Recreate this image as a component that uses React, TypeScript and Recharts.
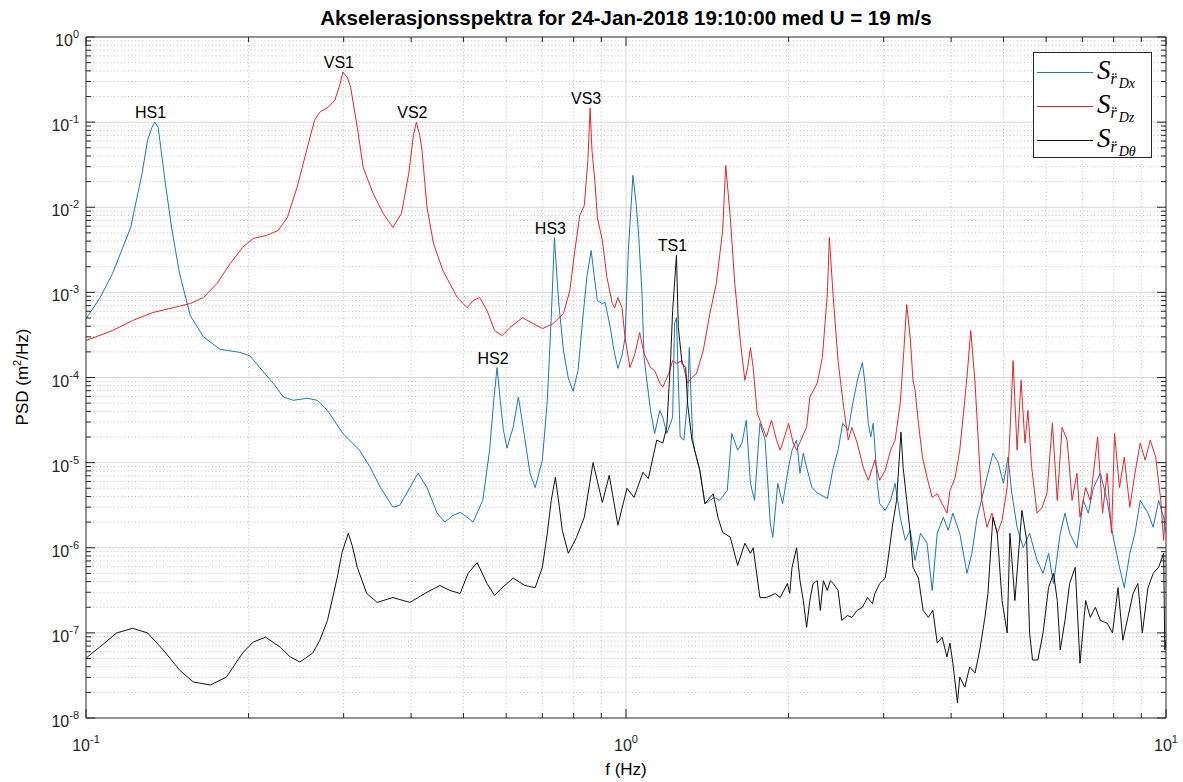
import React from "react";
import { LineChart, Line, XAxis, YAxis, ReferenceLine, ReferenceDot } from "recharts";

// [frequency (Hz), PSD (m^2/Hz)]
const spectrumDx: [number, number][] = [
  [0.1, 4.9e-4], [0.106, 8.5e-4], [0.112, 1.67e-3], [0.121, 5.8e-3], [0.127, 2.5e-2], [0.13, 6.1e-2],
  [0.1325, 8.7e-2], [0.134, 1.0e-1], [0.136, 8.7e-2], [0.137, 6.1e-2], [0.14, 2.1e-2], [0.144, 5.8e-3],
  [0.149, 1.67e-3], [0.156, 5.35e-4], [0.165, 3.0e-4], [0.177, 2.15e-4], [0.193, 1.97e-4], [0.201, 1.8e-4],
  [0.21, 1.3e-4], [0.222, 8.6e-5], [0.232, 5.9e-5], [0.242, 5.4e-5], [0.257, 5.7e-5], [0.268, 5.4e-5],
  [0.28, 4.1e-5], [0.299, 2.2e-5], [0.321, 1.4e-5], [0.336, 8.8e-6], [0.351, 5.1e-6], [0.37, 3.0e-6],
  [0.381, 3.15e-6], [0.398, 5.1e-6], [0.412, 7.5e-6], [0.428, 5.1e-6], [0.447, 2.55e-6], [0.462, 2.0e-6],
  [0.478, 2.4e-6], [0.493, 2.6e-6], [0.508, 2.28e-6], [0.521, 2.0e-6], [0.543, 3.6e-6], [0.559, 1.4e-5],
  [0.569, 5.4e-5], [0.577, 1.31e-4], [0.585, 5.4e-5], [0.593, 2.4e-5], [0.602, 1.48e-5], [0.618, 2.6e-5],
  [0.632, 5.9e-5], [0.645, 2.6e-5], [0.664, 7.5e-6], [0.679, 5.1e-6], [0.7, 1.07e-5], [0.715, 5.4e-5],
  [0.727, 5.05e-4], [0.737, 4.4e-3], [0.75, 8.0e-4], [0.766, 2.07e-4], [0.782, 9.8e-5], [0.798, 6.9e-5],
  [0.815, 1.21e-4], [0.832, 5.05e-4], [0.847, 1.58e-3], [0.862, 3.1e-3], [0.873, 1.58e-3], [0.885, 8.0e-4],
  [0.904, 7.4e-4], [0.915, 7.6e-4], [0.935, 3.9e-4], [0.95, 2.07e-4], [0.966, 1.28e-4], [0.983, 1.81e-4],
  [0.996, 2.95e-4], [1.01, 3.1e-3], [1.03, 2.37e-2], [1.045, 1.05e-2], [1.055, 4.9e-3], [1.07, 1.05e-3],
  [1.08, 1.72e-4], [1.11, 4.1e-5], [1.13, 2.2e-5], [1.155, 4.1e-5], [1.17, 3.4e-5], [1.19, 2.2e-5],
  [1.22, 3.4e-5], [1.23, 4.3e-4], [1.24, 5.05e-4], [1.25, 9.3e-5], [1.26, 2.0e-5], [1.28, 1.84e-5],
  [1.3, 5.4e-5], [1.31, 2.25e-4], [1.32, 5.4e-5], [1.33, 1.84e-5], [1.34, 1.4e-5], [1.37, 8.1e-6],
  [1.4, 3.3e-6], [1.43, 3.6e-6], [1.46, 3.9e-6], [1.49, 3.6e-6], [1.54, 4.7e-6], [1.57, 2.2e-5],
  [1.61, 1.4e-5], [1.64, 1.7e-5], [1.67, 3.15e-5], [1.7, 5.7e-6], [1.73, 3.6e-6], [1.77, 2.9e-5],
  [1.81, 1.84e-5], [1.85, 1.94e-6], [1.87, 1.33e-6], [1.91, 5.7e-6], [1.95, 3.3e-6], [2.0, 8.8e-6],
  [2.03, 1.4e-5], [2.07, 1.84e-5], [2.1, 7.5e-6], [2.13, 1.29e-5], [2.16, 8.8e-6], [2.21, 5.1e-6],
  [2.26, 4.4e-6], [2.36, 3.8e-6], [2.42, 8.8e-6], [2.47, 1.4e-5], [2.52, 2.9e-5], [2.58, 2.4e-5],
  [2.63, 5.0e-5], [2.69, 1.0e-4], [2.74, 1.5e-4], [2.77, 8.6e-5], [2.81, 2.9e-5], [2.84, 2.0e-5],
  [2.87, 2.9e-5], [2.92, 5.7e-6], [2.95, 3.3e-6], [3.02, 2.75e-6], [3.09, 3.6e-6], [3.15, 5.7e-6],
  [3.22, 2.28e-6], [3.29, 1.22e-6], [3.36, 1.6e-6], [3.43, 7.1e-7], [3.51, 1.48e-6], [3.61, 1.13e-6],
  [3.69, 3.15e-7], [3.77, 1.48e-6], [3.87, 2.28e-6], [3.95, 1.6e-6], [4.03, 2.55e-6], [4.15, 1.48e-6],
  [4.28, 5.0e-7], [4.37, 8.6e-7], [4.47, 2.28e-6], [4.52, 3.0e-6], [4.66, 6.7e-6], [4.78, 1.29e-5],
  [4.89, 1.0e-5], [5.0, 5.7e-6], [5.1, 1.16e-5], [5.18, 4.4e-6], [5.3, 1.74e-6], [5.44, 1.0e-6],
  [5.59, 1.48e-6], [5.77, 7.1e-7], [5.92, 5.0e-7], [6.06, 8.6e-7], [6.19, 3.8e-7], [6.37, 1.48e-6],
  [6.5, 2.55e-6], [6.63, 1.48e-6], [6.84, 1.0e-6], [7.03, 3.6e-6], [7.18, 2.55e-6], [7.34, 5.1e-6],
  [7.56, 7.5e-6], [7.78, 3.6e-6], [7.96, 1.48e-6], [8.2, 5.9e-7], [8.37, 3.4e-7], [8.57, 8.6e-7],
  [8.76, 1.48e-6], [8.96, 3.6e-6], [9.26, 2.55e-6], [9.47, 1.74e-6], [9.69, 3.6e-6], [9.9, 2.28e-6],
  [10, 1.48e-6],
];

const spectrumDz: [number, number][] = [
  [0.1, 2.72e-4], [0.112, 3.56e-4], [0.122, 4.67e-4], [0.133, 5.8e-4], [0.145, 6.6e-4], [0.156, 7.4e-4],
  [0.165, 8.7e-4], [0.175, 1.28e-3], [0.185, 2.19e-3], [0.195, 3.38e-3], [0.204, 4.3e-3], [0.216, 4.67e-3],
  [0.227, 5.35e-3], [0.236, 7.6e-3], [0.246, 1.72e-2], [0.257, 5.05e-2], [0.265, 1.05e-1], [0.271, 1.31e-1],
  [0.281, 1.5e-1], [0.289, 1.81e-1], [0.295, 2.72e-1], [0.299, 3.87e-1], [0.305, 3.3e-1], [0.309, 2.58e-1],
  [0.318, 8.7e-2], [0.326, 2.95e-2], [0.34, 1.46e-2], [0.355, 8.5e-3], [0.37, 5.8e-3], [0.384, 8.5e-3],
  [0.396, 2.5e-2], [0.404, 7.0e-2], [0.409, 1.0e-1], [0.415, 7.0e-2], [0.419, 4.67e-2], [0.428, 1.0e-2],
  [0.44, 3.76e-3], [0.458, 1.81e-3], [0.487, 8.7e-4], [0.508, 6.6e-4], [0.521, 8.0e-4], [0.536, 8.7e-4],
  [0.553, 6.1e-4], [0.571, 3.56e-4], [0.59, 3.1e-4], [0.61, 3.87e-4], [0.643, 5.05e-4], [0.673, 4.3e-4],
  [0.701, 3.76e-4], [0.733, 4.3e-4], [0.766, 5.65e-4], [0.787, 1.05e-3], [0.804, 3.1e-3], [0.821, 8.0e-3],
  [0.837, 1.05e-2], [0.85, 3.56e-2], [0.858, 1.46e-1], [0.865, 4.67e-2], [0.877, 1.81e-2], [0.885, 7.6e-3],
  [0.904, 4.08e-3], [0.922, 1.5e-3], [0.943, 7.4e-4], [0.953, 6.6e-4], [0.966, 8.7e-4], [0.983, 6.6e-4],
  [0.996, 2.95e-4], [1.017, 1.31e-4], [1.039, 1.91e-4], [1.06, 3.38e-4], [1.08, 1.91e-4], [1.11, 1.31e-4],
  [1.13, 1.21e-4], [1.155, 8.6e-5], [1.17, 7.7e-5], [1.2, 1.11e-4], [1.22, 1.58e-4], [1.24, 1.46e-4],
  [1.27, 1.58e-4], [1.3, 8.6e-5], [1.325, 1.0e-4], [1.35, 1.11e-4], [1.39, 2.07e-4], [1.43, 5.65e-4],
  [1.47, 1.28e-3], [1.51, 5.35e-3], [1.53, 3.1e-2], [1.56, 7.6e-3], [1.59, 1.28e-3], [1.63, 2.5e-4],
  [1.66, 9.3e-5], [1.68, 1.31e-4], [1.7, 2.25e-4], [1.72, 1.31e-4], [1.75, 3.8e-5], [1.79, 2.6e-5],
  [1.82, 2.0e-5], [1.86, 3.15e-5], [1.9, 1.84e-5], [1.93, 1.4e-5], [1.95, 1.7e-5], [2.0, 2.9e-5],
  [2.04, 1.7e-5], [2.07, 1.4e-5], [2.12, 2.0e-5], [2.16, 2.6e-5], [2.19, 5.9e-5], [2.26, 8.6e-5],
  [2.31, 1.72e-4], [2.36, 9.7e-4], [2.38, 4.4e-3], [2.42, 8.7e-4], [2.47, 1.58e-4], [2.52, 5.4e-5],
  [2.58, 1.84e-5], [2.62, 2.6e-5], [2.68, 1.7e-5], [2.75, 8.8e-6], [2.81, 6.2e-6], [2.89, 1.07e-5],
  [2.95, 6.2e-6], [3.02, 8.1e-6], [3.09, 1.4e-5], [3.15, 1.84e-5], [3.22, 5.0e-5], [3.27, 2.07e-4],
  [3.31, 7.2e-4], [3.36, 2.95e-4], [3.4, 9.3e-5], [3.43, 7.1e-5], [3.48, 2.9e-5], [3.54, 1.16e-5],
  [3.61, 6.7e-6], [3.69, 3.9e-6], [3.77, 4.3e-6], [3.85, 3.3e-6], [3.93, 2.55e-6], [3.98, 4.7e-6],
  [4.07, 6.7e-6], [4.15, 1.4e-5], [4.24, 5.4e-5], [4.29, 1.21e-4], [4.35, 3.56e-4], [4.43, 8.6e-5],
  [4.52, 8.8e-6], [4.56, 3.6e-6], [4.66, 1.74e-6], [4.76, 2.55e-6], [4.87, 1.48e-6], [4.97, 2.1e-6],
  [5.08, 5.1e-6], [5.14, 2.2e-5], [5.21, 1.58e-4], [5.3, 1.4e-5], [5.39, 9.3e-5], [5.48, 1.7e-5],
  [5.55, 4.1e-5], [5.64, 8.8e-6], [5.77, 2.55e-6], [5.9, 3.0e-6], [6.02, 4.4e-6], [6.16, 2.9e-5],
  [6.29, 3.6e-6], [6.42, 2.6e-5], [6.56, 1.84e-5], [6.7, 3.6e-6], [6.84, 7.5e-6], [6.93, 2.28e-6],
  [7.1, 5.1e-6], [7.24, 3.6e-6], [7.47, 2.0e-5], [7.63, 2.55e-6], [7.78, 7.5e-6], [7.93, 1.48e-6],
  [8.03, 2.2e-5], [8.2, 5.1e-6], [8.37, 1.16e-5], [8.57, 3.0e-6], [8.76, 7.5e-6], [8.96, 1.7e-5],
  [9.15, 1.07e-5], [9.35, 1.84e-5], [9.57, 1.16e-5], [9.78, 3.6e-6], [9.9, 1.22e-6], [10, 3.9e-6],
];

const spectrumDtheta: [number, number][] = [
  [0.1, 5.05e-8], [0.106, 6.8e-8], [0.114, 1.0e-7], [0.122, 1.13e-7], [0.13, 1.0e-7], [0.139, 6.3e-8],
  [0.149, 3.66e-8], [0.158, 2.65e-8], [0.17, 2.44e-8], [0.182, 3.03e-8], [0.195, 5.8e-8], [0.204, 7.8e-8],
  [0.215, 8.9e-8], [0.229, 6.8e-8], [0.239, 5.2e-8], [0.249, 4.55e-8], [0.263, 5.8e-8], [0.271, 8.2e-8],
  [0.28, 1.4e-7], [0.292, 4.5e-7], [0.298, 8.8e-7], [0.306, 1.48e-6], [0.311, 1.07e-6], [0.318, 5.9e-7],
  [0.331, 2.9e-7], [0.346, 2.28e-7], [0.37, 2.6e-7], [0.398, 2.28e-7], [0.428, 3.0e-7], [0.452, 3.6e-7],
  [0.472, 3.15e-7], [0.493, 2.9e-7], [0.51, 5.0e-7], [0.53, 6.7e-7], [0.553, 3.8e-7], [0.571, 2.75e-7],
  [0.59, 3.4e-7], [0.618, 4.4e-7], [0.65, 3.6e-7], [0.679, 3.4e-7], [0.7, 5.9e-7], [0.715, 1.48e-6],
  [0.727, 3.6e-6], [0.74, 6.7e-6], [0.752, 3.15e-6], [0.762, 1.6e-6], [0.782, 8.6e-7], [0.81, 1.33e-6],
  [0.837, 2.28e-6], [0.869, 1.0e-5], [0.904, 3.4e-6], [0.931, 7.1e-6], [0.966, 1.84e-6], [1.004, 5.0e-6],
  [1.035, 3.9e-6], [1.075, 7.7e-6], [1.1, 6.5e-6], [1.14, 1.84e-5], [1.17, 1.7e-5], [1.19, 2.6e-5],
  [1.21, 1.72e-4], [1.22, 6.1e-4], [1.24, 2.72e-3], [1.25, 3.87e-4], [1.27, 1.46e-4], [1.29, 1.31e-4],
  [1.3, 5.0e-5], [1.325, 1.84e-5], [1.34, 1.4e-5], [1.37, 8.1e-6], [1.4, 3.3e-6], [1.45, 4.3e-6],
  [1.48, 2.28e-6], [1.51, 1.52e-6], [1.56, 1.33e-6], [1.61, 6.2e-7], [1.66, 1.13e-6], [1.7, 8.6e-7],
  [1.72, 1.0e-6], [1.77, 2.6e-7], [1.82, 2.6e-7], [1.89, 2.9e-7], [1.93, 2.6e-7], [1.99, 3.8e-7],
  [2.01, 2.9e-7], [2.03, 5.9e-7], [2.07, 1.0e-6], [2.1, 4.1e-7], [2.13, 2.4e-7], [2.16, 1.16e-7],
  [2.19, 2.4e-7], [2.22, 3.8e-7], [2.26, 4.1e-7], [2.29, 1.84e-7], [2.32, 4.1e-7], [2.36, 3.15e-7],
  [2.39, 4.1e-7], [2.42, 3.8e-7], [2.47, 3.15e-7], [2.51, 1.4e-7], [2.57, 1.6e-7], [2.62, 1.52e-7],
  [2.68, 1.84e-7], [2.74, 2.0e-7], [2.8, 2.6e-7], [2.86, 2.2e-7], [2.89, 2.9e-7], [2.95, 3.8e-7],
  [3.02, 4.4e-7], [3.06, 7.7e-7], [3.12, 1.94e-6], [3.17, 3.6e-6], [3.23, 2.28e-5], [3.26, 8.8e-6],
  [3.31, 3.6e-6], [3.36, 1.48e-6], [3.4, 5.9e-7], [3.48, 4.4e-7], [3.55, 1.84e-7], [3.63, 1.52e-7],
  [3.7, 1.84e-7], [3.77, 7.6e-8], [3.85, 8.9e-8], [3.93, 5.2e-8], [3.98, 7.6e-8], [4.03, 4.4e-8],
  [4.11, 1.5e-8], [4.15, 3.03e-8], [4.24, 2.3e-8], [4.33, 3.97e-8], [4.43, 3.38e-8], [4.52, 6.3e-8],
  [4.62, 1.52e-7], [4.68, 2.9e-7], [4.78, 2.28e-6], [4.87, 1.48e-6], [4.97, 2.4e-7], [5.08, 1.0e-7],
  [5.14, 1.48e-6], [5.25, 2.4e-7], [5.41, 2.75e-6], [5.52, 1.22e-6], [5.59, 1.0e-7], [5.66, 4.8e-8],
  [5.79, 4.8e-8], [5.92, 1.0e-7], [6.06, 3.4e-7], [6.19, 5.0e-7], [6.29, 2.4e-7], [6.37, 6.3e-8],
  [6.5, 1.4e-7], [6.63, 3.8e-7], [6.79, 5.9e-7], [6.93, 4.4e-8], [7.1, 2.4e-7], [7.24, 1.52e-7],
  [7.4, 2.0e-7], [7.56, 1.4e-7], [7.78, 1.3e-7], [7.96, 1.0e-7], [8.15, 3.4e-7], [8.32, 8.2e-8],
  [8.5, 1.52e-7], [8.69, 2.9e-7], [8.87, 3.8e-7], [9.04, 1.0e-7], [9.26, 3.4e-7], [9.47, 5.0e-7],
  [9.69, 5.9e-7], [9.9, 8.6e-7], [9.95, 6.3e-8], [10, 8.2e-8],
];

// mode labels at their peaks: [label, f, psd]
const peakLabels: [string, number, number][] = [
  ["HS1", 0.134, 1.0e-1],
  ["VS1", 0.299, 3.87e-1],
  ["VS2", 0.409, 1.0e-1],
  ["HS2", 0.577, 1.31e-4],
  ["HS3", 0.737, 4.4e-3],
  ["VS3", 0.858, 1.46e-1],
  ["TS1", 1.24, 2.72e-3],
];

const xDecades = [0.1, 1, 10];
const yDecades = [1e-8, 1e-7, 1e-6, 1e-5, 1e-4, 1e-3, 1e-2, 1e-1, 1];
const minorSteps = [2, 3, 4, 5, 6, 7, 8, 9];

const xMinor = [0.1, 1].flatMap((d) => minorSteps.map((m) => +(d * m).toPrecision(3)));
const yMinor = yDecades.slice(0, -1).flatMap((d) => minorSteps.map((m) => +(d * m).toPrecision(3)));
const xTicks = [...xDecades, ...xMinor].sort((a, b) => a - b);
const yTicks = [...yDecades, ...yMinor].sort((a, b) => a - b);

const BLUE = "#1f77b4";
const RED = "#e3262e";
const BLACK = "#111111";
const AXIS = "#262626";
const FONT = '"Liberation Sans", Arial, Helvetica, sans-serif';

// page is 1183x782, body margin removed; plot box in page pixels
const W = 1183;
const H = 782;
const PL = 86;
const PT = 37;
const PR = 1166;
const PB = 718;

const isDecade = (v: number) => Math.abs(Math.log10(v) - Math.round(Math.log10(v))) < 1e-6;

const XTick = (props: any) => {
  const { x, payload } = props;
  const v = payload.value;
  const major = isDecade(v);
  const len = major ? 9 : 5;
  const exp = Math.round(Math.log10(v));
  return (
    <g>
      <line x1={x} x2={x} y1={PB} y2={PB - len} stroke={AXIS} />
      <line x1={x} x2={x} y1={PT} y2={PT + len} stroke={AXIS} />
      {major && (
        <text x={x} y={PB + 33} textAnchor="middle" fontSize={16} fill={AXIS} fontFamily={FONT}>
          10<tspan dy={-8} fontSize={11}>{exp}</tspan>
        </text>
      )}
    </g>
  );
};

const YTick = (props: any) => {
  const { y, payload } = props;
  const v = payload.value;
  const major = isDecade(v);
  const len = major ? 9 : 5;
  const exp = Math.round(Math.log10(v));
  return (
    <g>
      <line x1={PL} x2={PL + len} y1={y} y2={y} stroke={AXIS} />
      <line x1={PR} x2={PR - len} y1={y} y2={y} stroke={AXIS} />
      {major && (
        <text x={PL - 7} y={y + 9} textAnchor="end" fontSize={16} fill={AXIS} fontFamily={FONT}>
          10<tspan dy={-8} fontSize={11}>{exp}</tspan>
        </text>
      )}
    </g>
  );
};

const PeakLabel = ({ viewBox, text }: any) => (
  <text x={viewBox.x - 4} y={viewBox.y - 4} textAnchor="middle" fontSize={16} fill="#000" fontFamily={FONT}>
    {text}
  </text>
);

const toPoints = (rows: [number, number][]) => rows.map(([f, psd]) => ({ f, psd }));

const legendRows = [
  { color: BLUE, sub: "Dx" },
  { color: RED, sub: "Dz" },
  { color: BLACK, sub: "D\u03b8" },
];

export default function App() {
  return (
    <div style={{ position: "relative", width: W, height: H, fontFamily: FONT, overflow: "hidden" }}>
      <style>{"html,body{margin:0;padding:0;overflow:hidden;}"}</style>
      <div
        style={{
          position: "absolute", left: PL, width: PR - PL, top: 6, textAlign: "center",
          fontWeight: "bold", fontSize: 20.5, lineHeight: "24px", color: "#000",
        }}
      >
        Akselerasjonsspektra for 24-Jan-2018 19:10:00 med U = 19 m/s
      </div>
      <LineChart width={W} height={H} margin={{ top: PT, right: W - PR, left: 0, bottom: H - PB - 40 }}>
        {xMinor.map((v) => (
          <ReferenceLine key={`xm${v}`} x={v} stroke="#bcbcbc" strokeDasharray="1 2.5" />
        ))}
        {yMinor.map((v) => (
          <ReferenceLine key={`ym${v}`} y={v} stroke="#bcbcbc" strokeDasharray="1 2.5" />
        ))}
        <ReferenceLine x={1} stroke="#d8d8d8" />
        {yDecades.slice(1, -1).map((v) => (
          <ReferenceLine key={`yM${v}`} y={v} stroke="#d8d8d8" />
        ))}
        <ReferenceLine x={10} stroke={AXIS} />
        <ReferenceLine y={1} stroke={AXIS} />
        <XAxis
          dataKey="f"
          type="number"
          scale="log"
          domain={[0.1, 10]}
          allowDataOverflow
          ticks={xTicks}
          interval={0}
          tick={<XTick />}
          tickSize={0}
          tickLine={false}
          height={40}
          axisLine={{ stroke: AXIS }}
        />
        <YAxis
          dataKey="psd"
          type="number"
          scale="log"
          domain={[1e-8, 1]}
          allowDataOverflow
          ticks={yTicks}
          interval={0}
          tick={<YTick />}
          tickSize={0}
          tickLine={false}
          width={PL}
          axisLine={{ stroke: AXIS }}
        />
        <Line data={toPoints(spectrumDx)} dataKey="psd" stroke={BLUE} strokeWidth={1} dot={false} type="linear" isAnimationActive={false} />
        <Line data={toPoints(spectrumDz)} dataKey="psd" stroke={RED} strokeWidth={1} dot={false} type="linear" isAnimationActive={false} />
        <Line data={toPoints(spectrumDtheta)} dataKey="psd" stroke={BLACK} strokeWidth={1} dot={false} type="linear" isAnimationActive={false} />
        {peakLabels.map(([name, f, psd]) => (
          <ReferenceDot key={name} x={f} y={psd} r={0} stroke="none" fill="none" label={<PeakLabel text={name} />} />
        ))}
      </LineChart>
      <div
        style={{
          position: "absolute", left: PL, width: PR - PL, top: 760, textAlign: "center",
          fontSize: 17, lineHeight: "20px", color: "#000",
        }}
      >
        f (Hz)
      </div>
      <div
        style={{
          position: "absolute", left: 22, top: 377, transform: "translate(-50%, -50%) rotate(-90deg)",
          whiteSpace: "nowrap", fontSize: 17, color: "#000",
        }}
      >
        PSD (m<sup style={{ fontSize: 11 }}>2</sup>/Hz)
      </div>
      <div
        style={{
          position: "absolute", left: 1033, top: 52, width: 117, height: 104,
          border: `1px solid ${AXIS}`, background: "#fff",
        }}
      >
        {legendRows.map((r, i) => (
          <div key={r.sub} style={{ position: "absolute", left: 0, top: 4 + i * 34, height: 32, width: 117 }}>
            <div style={{ position: "absolute", left: 3, top: 15, width: 56, height: 1, background: r.color }} />
            <div
              style={{
                position: "absolute", left: 63, top: -2, whiteSpace: "nowrap", lineHeight: "30px",
                fontFamily: '"Liberation Serif", "DejaVu Serif", serif', fontStyle: "italic", color: "#000",
              }}
            >
              <span style={{ fontSize: 27 }}>S</span>
              <span style={{ fontSize: 16, position: "relative", top: 5 }}>{"r\u0308"}</span>
              <span style={{ fontSize: 14, position: "relative", top: 9, marginLeft: 2 }}>{r.sub}</span>
            </div>
          </div>
        ))}
      </div>
    </div>
  );
}
